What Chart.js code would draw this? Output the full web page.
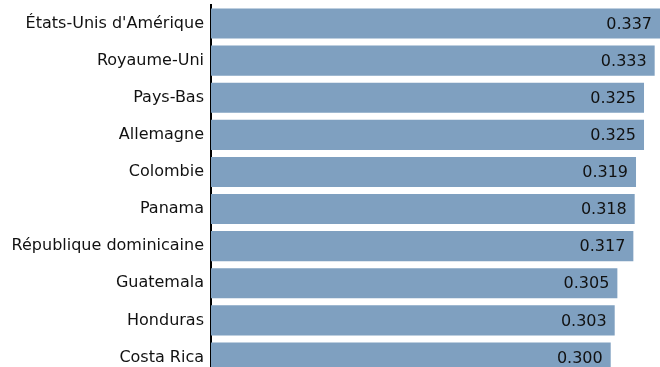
<!DOCTYPE html>
<html>
<head>
<meta charset="utf-8">
<script src="https://cdn.jsdelivr.net/npm/chart.js@4/dist/chart.umd.min.js"></script>
<style>
    html, body { margin: 0; padding: 0; background: #fff; overflow: hidden; }
    canvas { display: block; }
</style>
</head>
<body>
<canvas id="chart" width="660" height="376"></canvas>
<script>
const pays = [
    "États-Unis d'Amérique",
    "Royaume-Uni",
    "Pays-Bas",
    "Allemagne",
    "Colombie",
    "Panama",
    "République dominicaine",
    "Guatemala",
    "Honduras",
    "Costa Rica",
];
const valeurs = [0.337, 0.333, 0.325, 0.325, 0.319, 0.318, 0.317, 0.305, 0.303, 0.300];

const FONT = "'DejaVu Sans', Verdana, sans-serif";

// valeur écrite au bout de chaque barre, à l'intérieur
const etiquettes = {
    id: "etiquettes",
    afterDatasetsDraw(chart) {
        const ctx = chart.ctx;
        const meta = chart.getDatasetMeta(0);
        ctx.save();
        ctx.font = `16px ${FONT}`;
        ctx.fillStyle = "#111";
        ctx.textAlign = "right";
        ctx.textBaseline = "middle";
        meta.data.forEach((bar, i) => {
            ctx.fillText(valeurs[i].toFixed(3), bar.x - 8, bar.y + 1);
        });
        ctx.restore();
    },
};

new Chart(document.getElementById("chart"), {
    type: "bar",
    data: {
        labels: pays,
        datasets: [{
            data: valeurs,
            backgroundColor: "#7fa0c0",
            borderWidth: 0,
            barPercentage: 0.81,
            categoryPercentage: 1,
        }],
    },
    options: {
        indexAxis: "y",
        responsive: false,
        animation: false,
        devicePixelRatio: 1,
        layout: { padding: { top: 5, right: 0, bottom: 0, left: 0 } },
        plugins: { legend: { display: false }, tooltip: { enabled: false } },
        scales: {
            x: {
                display: false,
                min: 0,
                max: 0.337,
            },
            y: {
                grid: { display: false, drawTicks: false },
                border: { display: true, color: "#000", width: 2 },
                ticks: {
                    color: "#111",
                    padding: 7,
                    font: { family: FONT, size: 16 },
                },
                afterFit: scale => {
                    scale.width = 211;
                    scale.paddingTop = 0;
                    scale.paddingBottom = 0;
                },
            },
        },
    },
    plugins: [etiquettes],
});
</script>
</body>
</html>
